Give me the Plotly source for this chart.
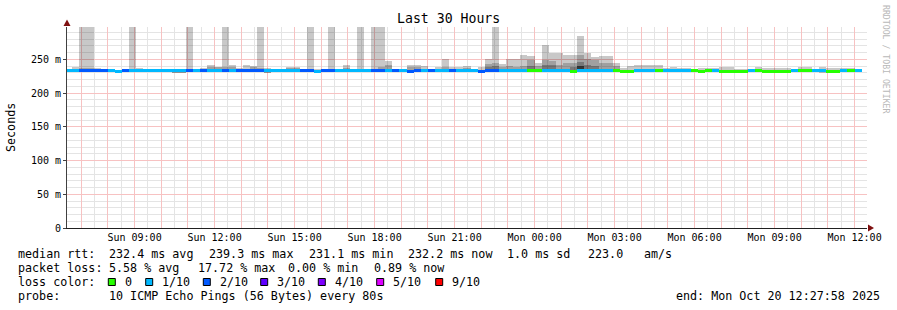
import plotly.graph_objects as go
from datetime import datetime, timedelta

# ---------------- data ----------------
START = datetime(2025, 10, 19, 6, 27, 58)
END = datetime(2025, 10, 20, 12, 27, 58)
FIRST_BIN = datetime(2025, 10, 19, 6, 24, 0)
BIN_MINUTES = 16

# loss per 16-minute bin (pings lost out of 10)
LOSS = [
    1, 1, 2, 2, 2, 2, 1, 1, 2, 1,
    1, 1, 1, 1, 1, 1, 1, 2, 1, 2,
    1, 1, 2, 1, 2, 2, 2, 2, 1, 1,
    1, 1, 1, 2, 2, 1, 2, 2, 1, 1,
    1, 1, 1, 2, 2, 1, 2, 1, 2, 2,
    1, 2, 1, 1, 2, 1, 1, 1, 2, 2,
    2, 1, 1, 1, 1, 0, 0, 1, 1, 1,
    1, 0, 1, 1, 1, 1, 1, 0, 0, 0,
    1, 1, 1, 0, 1, 1, 1, 1, 0, 0,
    0, 1, 0, 0, 0, 0, 1, 0, 0, 0,
    0, 0, 1, 0, 0, 1, 1, 0, 0, 1,
    0, 1,
]

# median rtt per bin (ms)
MEDIAN_MS = [
    233.0, 233.4, 232.8, 232.8, 232.8, 232.8, 233.2, 231.8, 233.0, 233.2,
    233.2, 234.0, 233.2, 233.2, 233.2, 233.0, 232.8, 232.8, 233.0, 232.8,
    233.4, 233.0, 232.8, 233.4, 232.8, 232.8, 233.0, 233.0, 233.0, 233.0,
    233.0, 233.0, 233.0, 232.8, 232.8, 232.4, 232.8, 232.8, 233.2, 233.2,
    233.2, 233.2, 233.2, 232.8, 232.8, 233.2, 232.8, 233.2, 232.6, 232.8,
    233.2, 232.8, 233.2, 233.2, 232.8, 233.2, 233.2, 233.2, 232.2, 232.8,
    232.8, 233.2, 233.2, 233.2, 233.2, 233.4, 233.4, 233.2, 233.2, 233.2,
    233.2, 232.6, 233.6, 233.2, 233.2, 233.2, 233.2, 232.8, 232.4, 232.6,
    233.2, 233.2, 233.2, 232.8, 233.2, 233.2, 233.2, 233.2, 232.8, 232.6,
    233.0, 233.2, 232.6, 232.6, 232.6, 232.6, 233.2, 232.8, 232.6, 232.6,
    232.6, 232.6, 233.2, 232.8, 232.8, 233.2, 233.0, 232.6, 232.6, 233.2,
    232.8, 233.2,
]

# smoke (spread of the 10 pings), ms
SMOKE_LOW = [
    231.5, 231.5, 231.0, 231.0, 231.0, 231.0, 231.5, 230.0, 231.5, 231.5,
    231.5, 232.0, 231.5, 231.5, 231.0, 230.5, 229.5, 231.0, 231.5, 231.0,
    231.0, 231.0, 231.0, 231.5, 231.0, 231.0, 231.0, 231.0, 230.5, 231.5,
    231.5, 231.5, 231.5, 231.0, 231.0, 230.5, 231.0, 231.0, 231.5, 231.5,
    231.5, 231.5, 231.5, 231.0, 231.0, 231.5, 231.0, 231.5, 230.5, 231.0,
    231.5, 231.0, 231.5, 231.5, 231.0, 231.5, 231.5, 231.5, 230.0, 231.0,
    231.0, 231.5, 231.5, 231.5, 231.5, 231.5, 231.5, 231.5, 231.5, 231.5,
    231.5, 230.5, 231.0, 231.5, 231.5, 231.5, 231.5, 231.0, 230.5, 230.5,
    231.5, 231.5, 231.5, 231.0, 231.5, 231.5, 231.5, 231.5, 231.0, 230.5,
    231.0, 231.5, 230.5, 230.5, 230.5, 230.5, 231.5, 231.0, 230.5, 230.5,
    230.5, 230.5, 231.5, 231.0, 231.0, 231.5, 229.5, 230.5, 230.5, 231.5,
    231.0, 231.5,
]
SMOKE_OUTER = [
    236, 239, 320, 320, 237, 235, 235, 234, 235, 320,
    237, 236, 235, 235, 235, 236, 236, 320, 236, 237,
    242, 239, 320, 242, 237, 241, 240, 320, 237, 236,
    236, 239, 239, 236, 320, 235, 235, 320, 235, 241,
    236, 320, 236, 320, 320, 247, 236, 236, 241, 241,
    240, 236, 239, 250, 239, 239, 240, 236, 238, 251,
    320, 243, 250, 250, 256, 255, 245, 272, 259, 259,
    257, 257, 284, 260, 254, 255, 255, 245, 237, 240,
    242, 242, 242, 242, 237, 239, 237, 237, 235, 237,
    237, 237, 238, 238, 235, 235, 235, 239, 237, 237,
    237, 237, 235, 239, 239, 235, 239, 237, 237, 237,
    237, 235,
]
N = None
SMOKE_MID = [
    N, N, 237, 237, N, N, N, N, N, 236,
    N, N, N, N, N, 235, 235, 236, N, N,
    239, 238, 238, 238, N, N, 238, 237, 236, N,
    N, 237, 237, N, 236, N, N, 236, N, 237,
    N, 236, N, 236, 239, 241, N, N, 238, 238,
    N, N, N, 238, N, N, 237, N, N, 243,
    245, 239, 240, 239, 240, 249, 240, 249, 248, 242,
    245, 245, 256, 250, 249, 245, 245, 240, N, N,
    N, N, N, N, N, N, N, N, N, N,
    N, N, N, N, N, N, N, N, N, N,
    N, N, N, N, N, N, N, N, N, N,
    N, N,
]
SMOKE_INNER = [
    N, N, N, N, N, N, N, N, N, N,
    N, N, N, N, N, N, N, N, N, N,
    N, N, N, N, N, N, N, N, N, N,
    N, N, N, N, N, N, N, N, N, N,
    N, N, N, N, N, N, N, N, N, N,
    N, N, N, N, N, N, N, N, N, 238,
    240, N, N, N, N, 240, N, 242, 241, N,
    N, 239, 246, 241, 240, N, N, N, N, N,
    N, N, N, N, N, N, N, N, N, N,
    N, N, N, N, N, N, N, N, N, N,
    N, N, N, N, N, N, N, N, N, N,
    N, N,
]
SMOKE_CORE = [N] * 72 + [240] + [N] * 39

LOSS_LEVELS = ["0", "1/10", "2/10", "3/10", "4/10", "5/10", "9/10"]
LOSS_COLORS = ["#26ff00", "#00b8ff", "#0059ff", "#5e00ff", "#7e00ff", "#dd00ff", "#ff0000"]

X_TICK_TIMES = [datetime(2025, 10, 19, 9) + timedelta(hours=3 * i) for i in range(10)]
X_TICK_LABELS = ["Sun 09:00", "Sun 12:00", "Sun 15:00", "Sun 18:00", "Sun 21:00",
                 "Mon 00:00", "Mon 03:00", "Mon 06:00", "Mon 09:00", "Mon 12:00"]
Y_TICK_VALUES = [0, 50, 100, 150, 200, 250]
Y_TICK_LABELS = ["0", "50 m", "100 m", "150 m", "200 m", "250 m"]
Y_MINOR_VALUES = [v for v in range(10, 300, 10) if v % 50]
Y_MAX = 298

TITLE = "Last 30 Hours"
LEGEND_ROW1 = [("median rtt:", 16), ("232.4 ms avg", 107), ("239.3 ms max", 207),
               ("231.1 ms min", 307), ("232.2 ms now", 406), ("1.0 ms sd", 505.5),
               ("223.0", 586), ("am/s", 642)]
LEGEND_ROW2 = [("packet loss:", 16), ("5.58 % avg", 107), ("17.72 % max", 196),
               ("0.00 % min", 286), ("0.89 % now", 372)]
LEGEND_ROW4 = [("probe:", 16), ("10 ICMP Echo Pings (56 Bytes) every 80s", 107)]
END_TEXT = "end: Mon Oct 20 12:27:58 2025"
LOSS_BOX_X = [108.3, 145.7, 203.3, 260.7, 318.3, 376.7, 435.7]

# ---------------- geometry ----------------
FIG_W, FIG_H = 897, 310
ML, MR, MT, MB = 67, 30, 27, 82
PW = FIG_W - ML - MR
PH = FIG_H - MT - MB
BOTTOM = FIG_H - MB


def px(x):
    return (x - ML) / PW


def py(y):
    return (BOTTOM - y) / PH


MONO = "DejaVu Sans Mono"
bin_ms = BIN_MINUTES * 60 * 1000
centers = [FIRST_BIN + timedelta(minutes=BIN_MINUTES * (k + 0.5)) for k in range(len(LOSS))]

fig = go.Figure()


def smoke_trace(tops, color):
    xs, bases, hs = [], [], []
    for c, lo, t in zip(centers, SMOKE_LOW, tops):
        if t is None:
            continue
        xs.append(c)
        bases.append(lo)
        hs.append(t - lo)
    fig.add_trace(go.Bar(x=xs, y=hs, base=bases, width=bin_ms,
                         marker=dict(color=color, line=dict(width=0)),
                         hoverinfo="skip"))


smoke_trace(SMOKE_OUTER, "rgba(0,0,0,0.215)")
smoke_trace(SMOKE_MID, "rgba(0,0,0,0.20)")
smoke_trace(SMOKE_INNER, "rgba(0,0,0,0.25)")
smoke_trace(SMOKE_CORE, "rgba(0,0,0,0.55)")

band = 4.4
fig.add_trace(go.Bar(
    x=centers, y=[band] * len(MEDIAN_MS), base=[m - band / 2 for m in MEDIAN_MS],
    width=bin_ms,
    marker=dict(color=[LOSS_COLORS[l] for l in LOSS], line=dict(width=0)),
    hoverinfo="skip"))

hours = [datetime(2025, 10, 19, 7) + timedelta(hours=i) for i in range(30)]
hour_text = []
for h in hours:
    if h in X_TICK_TIMES:
        hour_text.append(X_TICK_LABELS[X_TICK_TIMES.index(h)])
    else:
        hour_text.append("")
halves = [datetime(2025, 10, 19, 6, 30) + timedelta(hours=i) for i in range(30)]

# rrdtool draws dotted grid lines; rendered here as solid lines of the blended tone
MAJOR_GRID = "#f7c2c2"
MINOR_GRID = "#e4e4e4"

fig.update_layout(
    width=FIG_W, height=FIG_H,
    margin=dict(l=ML, r=MR, t=MT, b=MB, pad=0),
    paper_bgcolor="white", plot_bgcolor="white",
    showlegend=False, barmode="overlay", bargap=0,
    font=dict(family=MONO, color="black", size=10),
    xaxis=dict(
        type="date", range=[START, END],
        tickmode="array", tickvals=hours, ticktext=hour_text,
        showgrid=True, gridcolor=MAJOR_GRID, gridwidth=1,
        minor=dict(tickmode="array", tickvals=halves, showgrid=True,
                   gridcolor=MINOR_GRID, ticks=""),
        showline=True, linecolor="#202020", linewidth=1,
        ticks="", tickfont=dict(family=MONO, size=10, color="black"),
        zeroline=False, fixedrange=True,
    ),
    yaxis=dict(
        range=[0, Y_MAX], tickmode="array", tickvals=Y_TICK_VALUES, ticktext=Y_TICK_LABELS,
        showgrid=True, gridcolor=MAJOR_GRID,
        minor=dict(tickmode="array", tickvals=Y_MINOR_VALUES, showgrid=True,
                   gridcolor=MINOR_GRID, ticks=""),
        showline=True, linecolor="#404040", linewidth=1,
        ticks="outside", ticklen=3, tickcolor="#404040",
        tickfont=dict(family=MONO, size=10, color="black"),
        zeroline=False, fixedrange=True,
    ),
)

ann = []


def text(t, x, y, size=11.7, anchor="left", color="black", angle=0):
    ann.append(dict(text=t, x=px(x), y=py(y), xref="paper", yref="paper",
                    xanchor=anchor, yanchor="middle", showarrow=False,
                    textangle=angle,
                    font=dict(family=MONO, size=size, color=color)))


text(TITLE, 448, 19, size=13.2, anchor="center")
text("Seconds", 11, 127, size=11.7, anchor="center", angle=-90)
text("RRDTOOL / TOBI OETIKER", 886, 59, size=8.2, anchor="center", color="#b8b8b8", angle=90)

ROW_Y = [254.0, 268.0, 282.0, 296.0]
for s, x in LEGEND_ROW1:
    text(s, x - 0.5, ROW_Y[0])
for s, x in LEGEND_ROW2:
    text(s, x - 0.5, ROW_Y[1])
text("loss color:", 15.5, ROW_Y[2])
for lvl, bx in zip(LOSS_LEVELS, LOSS_BOX_X):
    text(lvl, bx + 14.2, ROW_Y[2])
for s, x in LEGEND_ROW4:
    text(s, x - 0.5, ROW_Y[3])
text(END_TEXT, 881.5, ROW_Y[3], anchor="right")
fig.update_layout(annotations=ann)

shapes = []
for col, bx in zip(LOSS_COLORS, LOSS_BOX_X):
    shapes.append(dict(type="rect", xref="paper", yref="paper",
                       x0=px(bx), x1=px(bx + 7), y0=py(ROW_Y[2] + 3.5), y1=py(ROW_Y[2] - 3.5),
                       fillcolor=col, line=dict(color="black", width=1)))
# axis arrows
shapes.append(dict(type="path", xref="paper", yref="paper",
                   path=f"M {px(63.5)},{py(26)} L {px(70.5)},{py(26)} L {px(67)},{py(19.5)} Z",
                   fillcolor="#7f1010", line=dict(color="#7f1010", width=0)))
shapes.append(dict(type="path", xref="paper", yref="paper",
                   path=f"M {px(868)},{py(224.5)} L {px(868)},{py(231.5)} L {px(874)},{py(228)} Z",
                   fillcolor="#7f1010", line=dict(color="#7f1010", width=0)))
fig.update_layout(shapes=shapes)

fig.write_html("out.html")
